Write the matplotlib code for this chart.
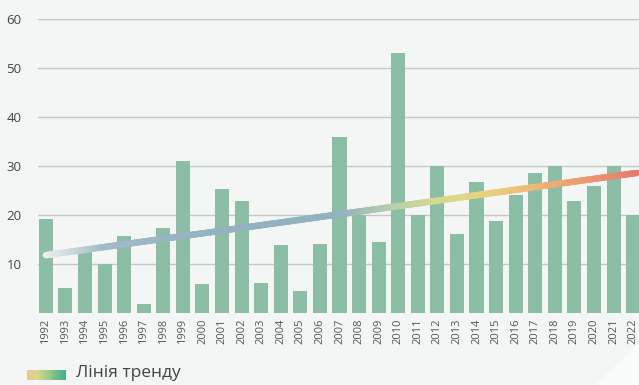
import numpy as np
import matplotlib
matplotlib.use("Agg")
import matplotlib.pyplot as plt
from matplotlib.collections import LineCollection
from matplotlib.colors import LinearSegmentedColormap, to_rgb
from matplotlib.patches import Polygon

plt.rcParams['font.family'] = ['Open Sans', 'DejaVu Sans']

# data
years = list(range(1992, 2023))
values = [19.1, 5.1, 12.8, 10.0, 15.7, 1.8, 17.3, 31.0, 5.9, 25.4,
          22.9, 6.1, 13.9, 4.4, 14.0, 36.0, 20.1, 14.4, 53.0, 20.0,
          30.0, 16.2, 26.8, 18.8, 24.0, 28.5, 30.0, 22.9, 25.9, 30.0,
          20.0]
trend_years = [1992, 2022.2]
trend_values = [11.8, 28.6]
yticks = [10, 20, 30, 40, 50, 60]
legend_label = "Лінія тренду"

bg = "#f4f6f6"
bar_color = "#8bbea5"
grid_color = "#c6c8c8"
text_color = "#555555"

fig = plt.figure(figsize=(6.39, 3.85), dpi=100, facecolor=bg)
ax = fig.add_axes([38 / 639, 72 / 385, 601 / 639, 294 / 385])
ax.set_facecolor(bg)

x = np.arange(len(years))
ax.bar(x, values, width=0.72, color=bar_color, zorder=2)

# trend line with colour gradient, faded into the background at the start
tx0 = trend_years[0] - years[0]
tx1 = trend_years[1] - years[0]
t = np.linspace(0, 1, 400)
px = tx0 + (tx1 - tx0) * t
py = trend_values[0] + (trend_values[1] - trend_values[0]) * t
pts = np.column_stack([px, py]).reshape(-1, 1, 2)
segs = np.concatenate([pts[:-1], pts[1:]], axis=1)
trend_cmap = LinearSegmentedColormap.from_list("trend", [
    (0.0, "#a8bfca"), (0.3, "#93b1c0"),
    (0.5, "#93b2bf"), (0.58, "#b6cdb0"), (0.66, "#d2da8e"),
    (0.74, "#e8d47e"), (0.84, "#ebb675"), (0.92, "#ea9a70"),
    (1.0, "#e67c6e")])
cols = trend_cmap(t[:-1])[:, :3]
fade = np.clip(0.1 + t[:-1] / 0.1 * 0.9, 0, 1)[:, None]
cols = cols * fade + np.array(to_rgb(bg)) * (1 - fade)
lc = LineCollection(segs, colors=cols, linewidths=4.6, capstyle="round", zorder=3)
ax.add_collection(lc)

ax.set_xlim(-0.4, 30.3)
ax.set_ylim(0, 60)
ax.set_xticks(x)
ax.set_xticklabels([str(y) for y in years], rotation=90, fontsize=8, color=text_color)
ax.set_yticks(yticks)
ax.set_yticklabels([str(v) for v in yticks], fontsize=9.5, color="#444444")
ax.tick_params(axis="both", length=0)
ax.tick_params(axis="y", pad=12)
ax.tick_params(axis="x", pad=4)
ax.grid(axis="y", color=grid_color, linewidth=1, zorder=0)
for s in ax.spines.values():
    s.set_visible(False)

# legend: gradient swatch + label
lax = fig.add_axes([27 / 639, 5 / 385, 39 / 639, 10 / 385])
legend_cmap = LinearSegmentedColormap.from_list("leg", [
    "#e8c79a", "#dcd888", "#a8cf88", "#6cbc8a", "#4fae8c"])
lax.imshow(np.linspace(0, 1, 100).reshape(1, -1), cmap=legend_cmap, aspect="auto")
lax.axis("off")
fig.text(76 / 639, 12 / 385, legend_label, fontsize=12.5, color="#444444", va="center")

# faint white wedge at the bottom right corner
fig.patches.append(Polygon([[595 / 639, 0], [1, 0], [1, 42 / 385]], closed=True,
                           transform=fig.transFigure, facecolor="#fafbfb",
                           edgecolor="none", zorder=-1))

fig.savefig("out.png", dpi=100, facecolor=bg)
